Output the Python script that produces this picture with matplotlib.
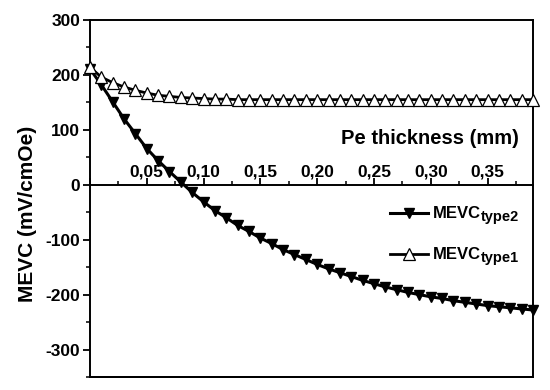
import matplotlib
matplotlib.use('Agg')
import matplotlib.pyplot as plt
from matplotlib.ticker import MultipleLocator, FuncFormatter


# Values
thickness = [0.00, 0.01, 0.02, 0.03, 0.04, 0.05, 0.06, 0.07, 0.08, 0.09,
             0.10, 0.11, 0.12, 0.13, 0.14, 0.15, 0.16, 0.17, 0.18, 0.19,
             0.20, 0.21, 0.22, 0.23, 0.24, 0.25, 0.26, 0.27, 0.28, 0.29,
             0.30, 0.31, 0.32, 0.33, 0.34, 0.35, 0.36, 0.37, 0.38, 0.39]

mevc_type2 = [211, 182, 151, 120, 93, 66, 44, 24, 5, -14,
              -31, -47, -60, -74, -85, -97, -107, -118, -127, -136,
              -145, -153, -160, -167, -174, -180, -186, -191, -196, -200,
              -204, -207, -211, -214, -217, -220, -222, -224, -226, -228]

mevc_type1 = [214, 196, 186, 178, 172, 167, 163, 161, 159, 158,
              157, 156, 156, 155, 155, 155, 155, 155, 155, 155,
              155, 155, 155, 155, 155, 155, 155, 155, 155, 155,
              155, 155, 155, 155, 155, 155, 155, 155, 155, 155]

x_label = 'Pe thickness (mm)'
y_label = 'MEVC (mV/cmOe)'
series_names = ['MEVC', 'MEVC']
series_subs = ['type2', 'type1']


plt.rcParams['font.family'] = 'Liberation Sans'
plt.rcParams['font.weight'] = 'bold'
plt.rcParams['axes.unicode_minus'] = False

fig = plt.figure(figsize=(5.5, 3.9), dpi=100)
ax = fig.add_axes([0.1636, 0.0333, 0.8055, 0.9154])

ax.plot(thickness, mevc_type2, color='black', lw=2.2, marker='v',
        markersize=7.5, markerfacecolor='black', label=series_names[0],
        clip_on=False, zorder=3)
ax.plot(thickness, mevc_type1, color='black', lw=2.0, marker='^',
        markersize=8.5, markerfacecolor='white', markeredgewidth=0.9,
        label=series_names[1], clip_on=False, zorder=3)

ax.set_xlim(0, 0.39)
ax.set_ylim(-350, 300)

# x axis sits on the zero line, ticks and labels above it; frame drawn round
ax.spines['top'].set_position(('data', 0))
ax.xaxis.tick_top()
ax.axhline(300, color='black', lw=1.4, clip_on=False)
ax.axhline(-350, color='black', lw=1.4, clip_on=False)
for s in ax.spines.values():
    s.set_linewidth(1.4)

ax.xaxis.set_major_locator(MultipleLocator(0.05))
ax.xaxis.set_minor_locator(MultipleLocator(0.025))
ax.xaxis.set_major_formatter(FuncFormatter(
    lambda v, p: '' if abs(v) < 1e-9 else ('%.2f' % v).replace('.', ',')))
ax.yaxis.set_major_locator(MultipleLocator(100))
ax.yaxis.set_minor_locator(MultipleLocator(50))

ax.tick_params(axis='both', which='major', length=5, width=1.3, labelsize=12.5)
ax.tick_params(axis='both', which='minor', length=3, width=1.1)
ax.tick_params(axis='x', which='both', direction='out', pad=-1)
ax.tick_params(axis='y', which='both', direction='out', right=False, pad=2)

ax.set_ylabel(y_label, fontsize=15, fontweight='bold')
ax.yaxis.set_label_coords(-0.12, 0.457)
ax.text(0.968, 0.667, x_label, transform=ax.transAxes, ha='right', va='center',
        fontsize=14.5, fontweight='bold')

leg = ax.legend(loc='upper left', bbox_to_anchor=(0.677, 0.478), frameon=False,
                fontsize=12, numpoints=1, handlelength=2.3, handletextpad=0.3,
                labelspacing=1.56, borderaxespad=0, borderpad=0)

# subscripts next to the legend labels (drawn after the legend)
for txt, sub in zip(leg.get_texts(), series_subs):
    ax.annotate(sub, xy=(1, 0), xycoords=txt, ha='left', va='baseline',
                fontsize=10.5, fontweight='bold', zorder=6)

fig.savefig('out.png', dpi=100)
